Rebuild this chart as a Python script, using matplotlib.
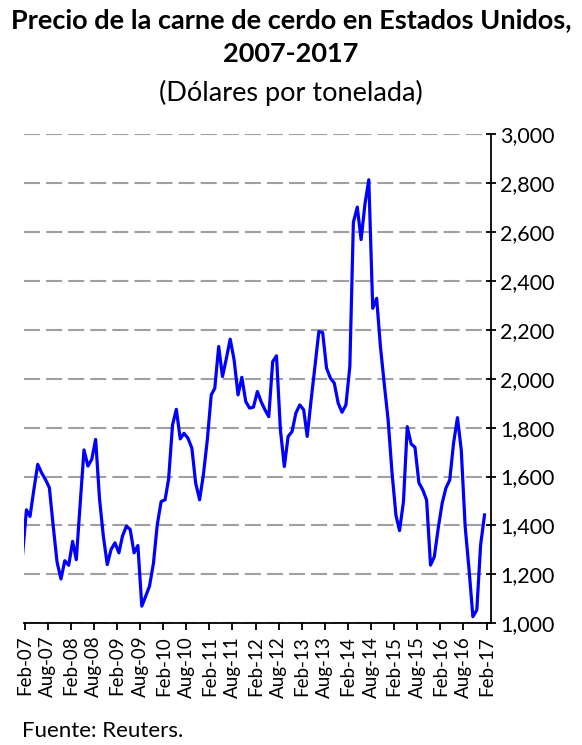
import matplotlib
matplotlib.use('Agg')
import matplotlib.pyplot as plt
import matplotlib.dates as mdates
import matplotlib.ticker as ticker
import pandas as pd

plt.rcParams['font.family'] = ['Lato', 'DejaVu Sans']

# monthly prices, Jan-07 .. Jan-17 (USD per tonne)
first_month = '2007-01-01'
prices = [
    1280, 1464, 1437, 1548, 1650, 1615, 1588, 1555, 1395, 1250, 1181, 1256,
    1237, 1335, 1260, 1490, 1709, 1643, 1670, 1752, 1507, 1356, 1240, 1302,
    1329, 1288, 1356, 1397, 1384, 1288, 1318, 1070, 1111, 1152, 1245, 1402,
    1498, 1505, 1590, 1811, 1875, 1754, 1777, 1757, 1716, 1573, 1505, 1607,
    1750, 1934, 1961, 2132, 2009, 2084, 2162, 2077, 1934, 2006, 1907, 1880,
    1884, 1948, 1907, 1873, 1845, 2070, 2094, 1791, 1641, 1764, 1784, 1859,
    1893, 1873, 1764, 1914, 2050, 2193, 2189, 2043, 2002, 1982, 1900, 1863,
    1893, 2050, 2640, 2702, 2569, 2716, 2814, 2288, 2329, 2131, 1975, 1830,
    1613, 1440, 1379, 1497, 1804, 1733, 1720, 1575, 1545, 1504, 1238, 1272,
    1389, 1491, 1552, 1586, 1736, 1841, 1709, 1395, 1218, 1027, 1054, 1320,
    1443,
]
y_ticks = list(range(1000, 3001, 200))

dates = pd.date_range(first_month, periods=len(prices), freq='MS') + pd.Timedelta(days=14)

fig = plt.figure(figsize=(5.82, 7.45), dpi=100)
ax = fig.add_axes([0.0409, 0.1634, 0.8027, 0.6564])

ax.plot(dates, prices, color='#0000ff', lw=2.3, zorder=3)

ax.set_ylim(1000, 3000)
ax.set_xlim(pd.Timestamp('2007-01-25'), pd.Timestamp('2017-03-07'))

ax.yaxis.tick_right()
ax.set_yticks(y_ticks)
ax.yaxis.set_major_formatter(ticker.FuncFormatter(lambda v, p: '{:,.0f}'.format(v)))
ax.yaxis.grid(True, color='#a0a0a0', lw=1.5, linestyle=(0, (7.7, 2.9)), zorder=1)
ax.set_axisbelow(True)

ax.xaxis.set_major_locator(mdates.MonthLocator(bymonth=(2, 8)))
ax.xaxis.set_major_formatter(mdates.DateFormatter('%b-%y'))
plt.setp(ax.get_xticklabels(), rotation=90, ha='center', va='top')

for s in ['left', 'top']:
    ax.spines[s].set_visible(False)
for s in ['bottom', 'right']:
    ax.spines[s].set_linewidth(1.3)
    ax.spines[s].set_color('black')

ax.tick_params(axis='y', which='both', direction='inout', length=7, width=1.3,
               labelsize=15.5, pad=3, left=False, right=True)
ax.tick_params(axis='x', direction='out', length=5, width=1.3, labelsize=13.5, pad=4)

fig.text(0.5, 1 - 20 / 745, 'Precio de la carne de cerdo en Estados Unidos,',
         ha='center', va='center', fontsize=19.5, fontweight='bold')
fig.text(0.5, 1 - 54 / 745, '2007-2017', ha='center', va='center',
         fontsize=19.5, fontweight='bold')
fig.text(0.5, 1 - 93 / 745, '(Dólares por tonelada)', ha='center', va='center',
         fontsize=19.5)
fig.text(22 / 582, 1 - 731 / 745, 'Fuente: Reuters.', ha='left', va='center',
         fontsize=16)

fig.savefig('out.png', dpi=100)
